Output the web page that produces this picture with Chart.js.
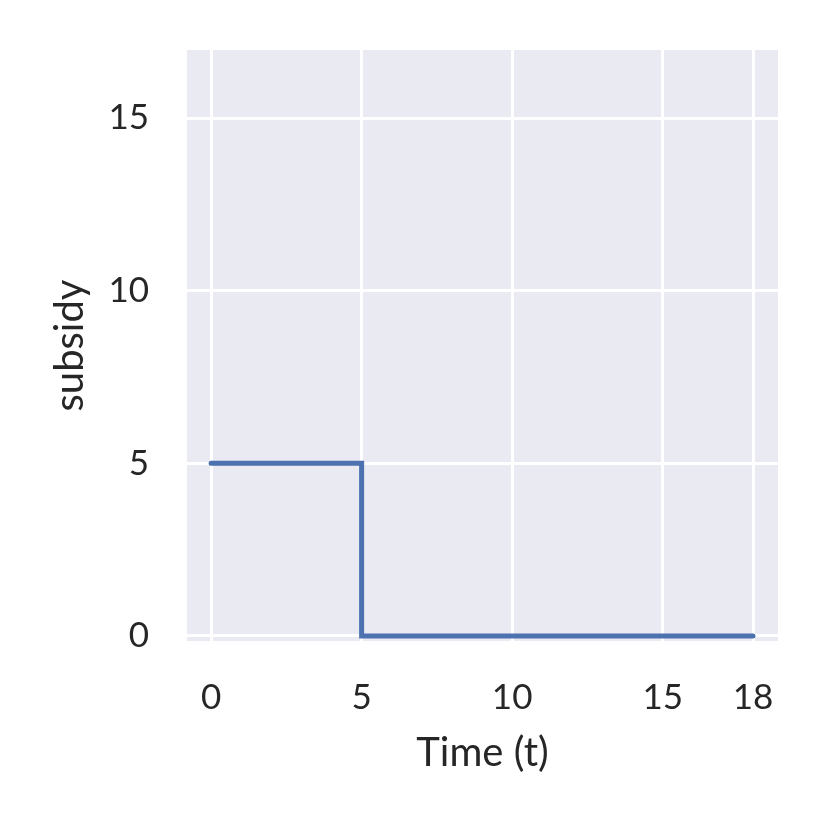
<!DOCTYPE html>
<html><head><meta charset="utf-8">
<script src="https://cdn.jsdelivr.net/npm/chart.js@4"></script>
<style>html,body{margin:0;padding:0;background:#fff}#wrap{width:830px;height:830px}</style>
</head><body><div id="wrap"><canvas id="c" width="830" height="830"></canvas></div>
<script>
const timeT = [0,1,2,3,4,5,6,7,8,9,10,11,12,13,14,15,16,17,18];
const subsidy = [5,5,5,5,5,0,0,0,0,0,0,0,0,0,0,0,0,0,0];
const xTicks = [0,5,10,15,18];
const yTicks = [0,5,10,15];
const xLabel = 'Time (t)';
const yLabel = 'subsidy';

const FONT = 'Lato, "DejaVu Sans", sans-serif';
const bgPlugin = {
  id:'bg',
  beforeDraw(chart){
    const {ctx, chartArea:a} = chart;
    ctx.save(); ctx.fillStyle='#EAEAF2';
    ctx.fillRect(a.left,a.top,a.right-a.left,a.bottom-a.top); ctx.restore();
  }
};
new Chart(document.getElementById('c'), {
  type:'line',
  data:{datasets:[{
    data: timeT.map((t,i)=>({x:t,y:subsidy[i]})),
    borderColor:'#4C72B0', borderWidth:5, stepped:true,
    pointRadius:0, borderCapStyle:'round', borderJoinStyle:'miter', fill:false
  }]},
  options:{
    responsive:false, animation:false, devicePixelRatio:1,
    layout:{padding:{left:0,right:52,top:50,bottom:0}},
    plugins:{legend:{display:false},tooltip:{enabled:false}},
    scales:{
      x:{type:'linear', min:-0.8, max:18.83,
        afterBuildTicks(s){ s.ticks = xTicks.map(v=>({value:v})); },
        afterFit(s){ s.height = 189; s.paddingLeft = 0; s.paddingRight = 0; },
        grid:{color:'#ffffff', lineWidth:3, drawTicks:false},
        border:{display:false},
        ticks:{color:'#262626', font:{family:FONT,size:35}, padding:36, maxRotation:0, autoSkip:false},
        title:{display:true, text:xLabel, color:'#262626', font:{family:FONT,size:40}, padding:{top:10,bottom:53}}
      },
      y:{type:'linear', min:-0.145, max:16.97,
        afterBuildTicks(s){ s.ticks = yTicks.map(v=>({value:v})); },
        afterFit(s){ s.width = 187; s.paddingTop = 0; s.paddingBottom = 0; },
        grid:{color:'#ffffff', lineWidth:3, drawTicks:false},
        border:{display:false},
        ticks:{color:'#262626', font:{family:FONT,size:35}, padding:38, autoSkip:false},
        title:{display:true, text:yLabel, color:'#262626', font:{family:FONT,size:40}, padding:{top:46,bottom:0}}
      }
    }
  },
  plugins:[bgPlugin]
});
</script></body></html>
